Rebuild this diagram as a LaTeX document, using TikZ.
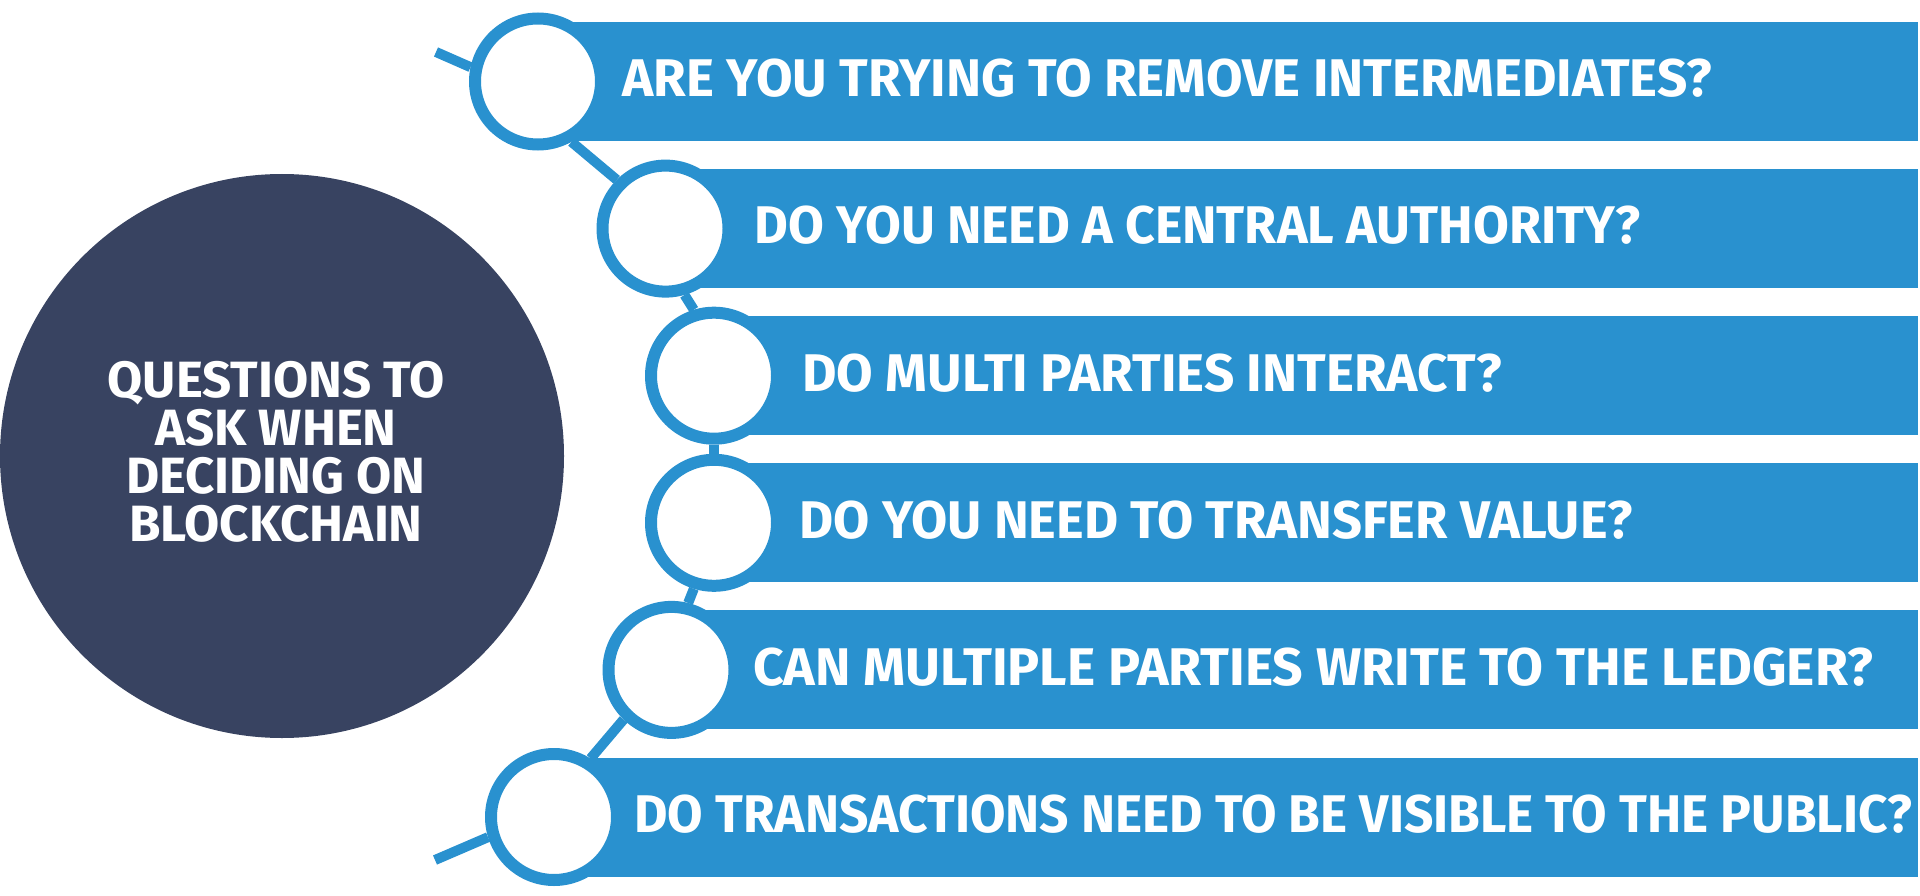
\documentclass[tikz,border=0pt]{standalone}
\usepackage{fontspec}
\usepackage{tikz}
\usetikzlibrary{positioning}
\newfontfamily\dinfont{Fira Sans}
\definecolor{ChainBlue}{HTML}{2991CF}
\definecolor{NavyHub}{HTML}{384361}

\begin{document}
\begin{tikzpicture}[x=1pt,y=-1pt,
    ring/.style={circle,draw=ChainBlue,fill=white,line width=12pt,
                 minimum size=126pt,inner sep=0pt},
    bar/.style={fill=ChainBlue,minimum height=119pt,inner sep=0pt,anchor=west},
    link/.style={draw=ChainBlue,line width=10pt},
    question/.style={text=white,inner sep=0pt,anchor=west,
                     font=\dinfont\bfseries\fontsize{53}{53}\selectfont}]
\useasboundingbox (0,0) rectangle (1920,896);

% hub on the left
\node[circle,fill=NavyHub,minimum size=564pt,inner sep=0pt] (hub) at (282,456) {};
\node[text=white,align=center,inner sep=0pt,
      font=\dinfont\bfseries\fontsize{51}{48}\selectfont] (title) at (276,452)
      {QUESTIONS TO\\ASK WHEN\\DECIDING ON\\BLOCKCHAIN};

% question bars with their rings
\foreach \i/\cx/\dx/\sx/\q in {1/538/84/1/{ARE YOU TRYING TO REMOVE INTERMEDIATES?},
                       2/665.5/88.5/0.98/{DO YOU NEED A CENTRAL AUTHORITY?},
                       3/714/88/1/{DO MULTI PARTIES INTERACT?},
                       4/714/85/0.99/{DO YOU NEED TO TRANSFER VALUE?},
                       5/671.5/81.5/1.01/{CAN MULTIPLE PARTIES WRITE TO THE LEDGER?},
                       6/554/80/0.97/{DO TRANSACTIONS NEED TO BE VISIBLE TO THE PUBLIC?}}{
  \pgfmathsetmacro\yy{81.5+147.1*(\i-1)}
  \pgfmathsetmacro\bw{1918-\cx}
  \node[bar,minimum width=\bw pt] (b\i) at (\cx,\yy) {};
  \node[ring] (c\i) at (\cx,\yy) {};
  \node[question,xscale=\sx,transform shape] (q\i) at (\cx+\dx,\yy-3) {\q};
}

% chain between the rings
\coordinate (chaintop) at (436,52);
\coordinate (chainbottom) at (435,860);
\draw[link] (chaintop) -- (c1.168);
\draw[link] (c1.-61) -- (c2.135);
\draw[link] (c2.-74) -- (c3.107);
\draw[link] (c3.south) -- (c4.north);
\draw[link] (c4.-107) -- (c5.76);
\draw[link] (c5.-134) -- (c6.58);
\draw[link] (c6.-163) -- (chainbottom);
\end{tikzpicture}
\end{document}
